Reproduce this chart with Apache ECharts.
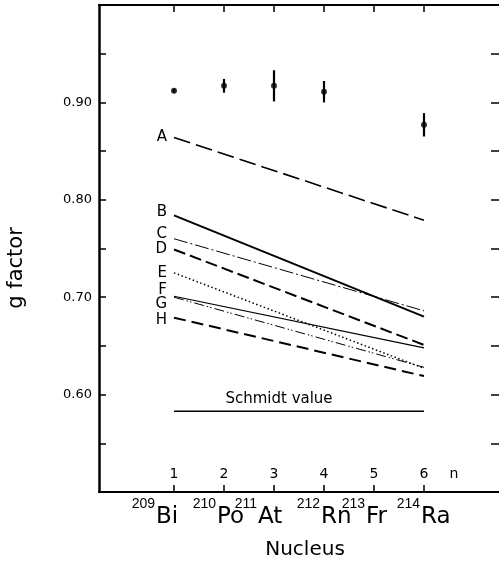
<!DOCTYPE html>
<html><head><meta charset="utf-8">
<script src="https://cdn.jsdelivr.net/npm/echarts@6/dist/echarts.min.js"></script>
<style>html,body{margin:0;padding:0;background:#fff}#c{width:499px;height:567px}</style>
</head><body><div id="c"></div>
<script>
// ---- data ----
const nValues = [1, 2, 3, 4, 5, 6];
const nucleusMass = ['209', '210', '211', '212', '213', '214'];
const nucleusSymbol = ['Bi', 'Po', 'At', 'Rn', 'Fr', 'Ra'];
const yTickLabels = [0.60, 0.70, 0.80, 0.90];
const yTicks = [0.55, 0.60, 0.65, 0.70, 0.75, 0.80, 0.85, 0.90, 0.95];
const nAxisName = 'n';

const measN = [1, 2, 3, 4, 6];
const measG = [0.912, 0.917, 0.917, 0.911, 0.877];
const measErr = [0.002, 0.007, 0.016, 0.011, 0.012];

const curveNames = ['A', 'B', 'C', 'D', 'E', 'F', 'G', 'H'];
const curveStartN = 1;
const curveEndN = 6;
const curveStartG = [0.864, 0.784, 0.760, 0.749, 0.725, 0.701, 0.700, 0.679];
const curveEndG   = [0.779, 0.680, 0.686, 0.651, 0.627, 0.648, 0.628, 0.619];

const schmidtG = 0.583;
const schmidtLabel = 'Schmidt value';

// ---- styles (not data) ----
const FONT = 'DejaVu Sans';
const curveStyle = [
  { width: 1.6, type: [17, 6] },
  { width: 2, type: 'solid' },
  { width: 1, type: [14, 3, 2, 3] },
  { width: 2, type: [12, 5] },
  { width: 1.5, type: [1.5, 2.5] },
  { width: 1.2, type: 'solid' },
  { width: 1, type: [10, 3, 1.5, 2, 1.5, 3] },
  { width: 2, type: [12, 6] }
];
const labelDy = [0, -3, -5, 0, 0, -6, 7, 2];
const symbolLeftOffset = [-18, -7, -16, -3, -8, -3];

const chart = echarts.init(document.getElementById('c'), null, { renderer: 'canvas' });

const axisCommonX = { type: 'value', min: -0.5, max: 7.5, interval: 0.5, splitLine: { show: false } };

const series = [];
curveNames.forEach((nm, i) => {
  series.push({
    type: 'line', name: nm,
    data: [
      { value: [curveStartN, curveStartG[i]],
        label: { show: true, formatter: nm, position: 'left', distance: 7, offset: [0, labelDy[i]],
                 fontSize: 15, color: '#000', fontFamily: FONT } },
      [curveEndN, curveEndG[i]]
    ],
    symbol: 'circle', symbolSize: 0, showSymbol: true,
    lineStyle: Object.assign({ color: '#000' }, curveStyle[i]),
    itemStyle: { color: '#000' },
    label: { show: false }, z: 3
  });
});
series.push({
  type: 'line', name: 'Schmidt',
  data: [[nValues[0], schmidtG], [nValues[5], schmidtG]],
  symbol: 'none', lineStyle: { color: '#000', width: 1.5 },
  markPoint: {
    symbol: 'circle', symbolSize: 0,
    data: [{ coord: [3.1, schmidtG] }],
    label: { show: true, position: 'top', distance: 5, formatter: schmidtLabel,
             fontSize: 15, color: '#000', fontFamily: FONT }
  }
});
series.push({
  type: 'custom', name: 'err',
  data: measN.map((n, i) => [n, measG[i] - measErr[i], measG[i] + measErr[i]]),
  encode: { x: 0, y: [1, 2] },
  renderItem: (params, api) => {
    const p1 = api.coord([api.value(0), api.value(1)]);
    const p2 = api.coord([api.value(0), api.value(2)]);
    return { type: 'line', shape: { x1: p1[0], y1: p1[1], x2: p2[0], y2: p2[1] },
             style: { stroke: '#000', lineWidth: 2.2 } };
  },
  z: 4
});
series.push({
  type: 'scatter', name: 'exp',
  data: measN.map((n, i) => [n, measG[i]]),
  symbol: 'circle', symbolSize: 6, itemStyle: { color: '#000' }, z: 5
});

const baseGraphic = [
  { id: 'ylab', type: 'text', x: 17, y: 268, rotation: Math.PI / 2,
    style: { text: 'g factor', align: 'center', verticalAlign: 'middle', fontSize: 21, fontFamily: FONT, fill: '#000' } },
  { id: 'xlab', type: 'text', x: 305, y: 550,
    style: { text: 'Nucleus', align: 'center', verticalAlign: 'middle', fontSize: 20, fontFamily: FONT, fill: '#000' } }
];

chart.setOption({
  animation: false,
  backgroundColor: '#fff',
  grid: { left: 99, top: 5, width: 402, height: 487 },
  xAxis: [
    Object.assign({}, axisCommonX, {
      position: 'bottom',
      axisLine: { show: true, onZero: false, lineStyle: { color: '#000', width: 2 } },
      axisTick: { show: true, inside: true, length: 7, customValues: nValues, lineStyle: { color: '#000', width: 1.5 } },
      axisLabel: { show: true, inside: true, margin: 11, customValues: nValues.concat([6.6]),
                   formatter: v => (Math.abs(v - 6.6) < 1e-6 ? nAxisName : String(v)),
                   fontSize: 14, color: '#000', fontFamily: FONT }
    }),
    Object.assign({}, axisCommonX, {
      position: 'top',
      axisLine: { show: true, onZero: false, lineStyle: { color: '#000', width: 2 } },
      axisTick: { show: true, inside: true, length: 7, customValues: nValues, lineStyle: { color: '#000', width: 1.5 } },
      axisLabel: { show: false }
    })
  ],
  yAxis: [
    {
      type: 'value', position: 'left', min: 0.5, max: 1.0, interval: 0.05,
      splitLine: { show: false },
      axisLine: { show: true, onZero: false, lineStyle: { color: '#000', width: 2.5 } },
      axisTick: { show: true, inside: true, length: 7, customValues: yTicks, lineStyle: { color: '#000', width: 1.5 } },
      axisLabel: { show: true, margin: 7, customValues: yTickLabels, formatter: v => v.toFixed(2),
                   fontSize: 13, color: '#000', fontFamily: FONT }
    },
    {
      type: 'value', position: 'right', min: 0.5, max: 1.0, interval: 0.05,
      splitLine: { show: false },
      axisLine: { show: false, onZero: false },
      axisTick: { show: true, inside: true, length: 8, customValues: yTicks, lineStyle: { color: '#000', width: 1.5 } },
      axisLabel: { show: false }
    }
  ],
  graphic: baseGraphic,
  series: series
});

// nucleus labels below the n axis, placed through the x axis scale
const nucleusGraphic = [];
nValues.forEach((n, i) => {
  const px = chart.convertToPixel({ xAxisIndex: 0 }, n);
  const left = px + symbolLeftOffset[i];
  nucleusGraphic.push({ id: 'sym' + i, type: 'text', x: left, y: 517,
    style: { text: nucleusSymbol[i], align: 'left', verticalAlign: 'middle', fontSize: 23, fontFamily: FONT, fill: '#000' } });
  nucleusGraphic.push({ id: 'mass' + i, type: 'text', x: left - 1, y: 504,
    style: { text: nucleusMass[i], align: 'right', verticalAlign: 'middle', fontSize: 14, fontFamily: 'Liberation Sans', fill: '#000' } });
});
chart.setOption({ graphic: baseGraphic.concat(nucleusGraphic) });
</script>
</body></html>
